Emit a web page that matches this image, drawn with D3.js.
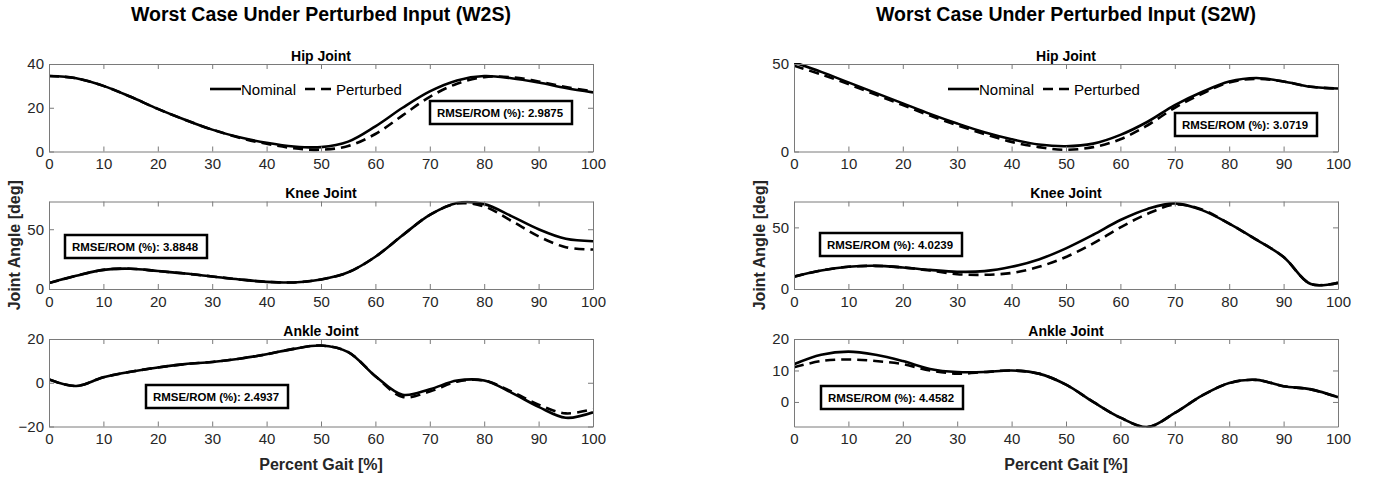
<!DOCTYPE html>
<html>
<head>
<meta charset="utf-8">
<script src="https://cdn.jsdelivr.net/npm/d3@7/dist/d3.min.js"></script>
<style>
  body { margin: 0; background: #fff; }
  text { font-family: "Liberation Sans", Arial, sans-serif; }
</style>
</head>
<body>
<div id="chart"></div>
<script>
// gait percent samples
let gait = [0, 5, 10, 15, 20, 25, 30, 35, 40, 45, 50, 55, 60, 65, 70, 75, 80, 85, 90, 95, 100]

// W2S (left column)
let w2sHipNom   = [34.5, 33.5, 30, 25, 19.5, 14.5, 10, 6.5, 4, 2.3, 2, 4.5, 11.5, 20, 27.5, 32.5, 34.5, 33.5, 31.5, 29, 27]
let w2sHipPert  = [34.5, 33.5, 30, 25, 19.5, 14.5, 10, 6.3, 3.5, 1.5, 0.8, 2.5, 8, 16.5, 25, 31, 34, 34, 32, 29.5, 27.5]
let w2sKneeNom  = [5, 11, 16, 17, 15, 13, 10.5, 8, 6, 5.5, 8, 14, 27, 45, 62, 72, 71, 61, 50, 42, 40]
let w2sKneePert = [5, 11, 16, 17, 15, 13, 10.5, 8, 6, 5.5, 8, 14, 27, 45, 62, 71.5, 69, 57, 44, 35, 33]
let w2sAnkNom   = [1.5, -1.5, 2.5, 5, 7, 8.5, 9.5, 11, 13, 15.5, 17, 14, 3, -5.5, -3, 1, 1, -4.5, -11, -16, -13.5]
let w2sAnkPert  = [1.5, -1.5, 2.5, 5, 7, 8.5, 9.5, 11, 13, 15.5, 17, 14, 3, -6.5, -4, 0.5, 1, -4, -10, -14, -12]

// S2W (right column)
let s2wHipNom   = [51, 45.5, 39.5, 33.5, 27.5, 21.5, 16, 11, 7, 4, 3, 4.5, 9.5, 17, 26.5, 34, 40, 42, 40, 37, 36]
let s2wHipPert  = [49, 44, 38.5, 32.5, 26.5, 20.5, 15, 10, 5.5, 2.5, 1, 2.5, 7, 15, 25, 33, 39.5, 41.5, 40, 37, 36]
let s2wKneeNom  = [10, 15, 18, 18.8, 17.5, 15.5, 14, 14.5, 18, 24, 33, 44, 56, 65, 69.5, 64, 53, 40, 26, 4, 5]
let s2wKneePert = [10, 15, 18, 18.8, 17.5, 15, 12, 11.5, 13, 18, 26, 37, 50, 61, 68.5, 64.5, 53, 40, 26, 4, 5]
let s2wAnkNom   = [12, 15, 16, 15, 13, 10.5, 9.5, 9.5, 10, 9, 5.5, 0, -5, -8, -3.5, 2, 6, 7, 5, 4, 1.5]
let s2wAnkPert  = [11, 13, 13.5, 13, 12, 10, 9, 9.5, 10, 9, 5.5, 0, -5, -8, -3.5, 2, 6, 7, 5, 4, 1.5]

let xTicks = [0, 10, 20, 30, 40, 50, 60, 70, 80, 90, 100]
let titles = ["Worst Case Under Perturbed Input (W2S)", "Worst Case Under Perturbed Input (S2W)"]
let jointNames = ["Hip Joint", "Knee Joint", "Ankle Joint"]
let rmse = [["2.9875", "3.8848", "2.4937"], ["3.0719", "4.0239", "4.4582"]]
let legendNames = ["Nominal", "Perturbed"]

let panels = [
  [
    { nom: w2sHipNom, pert: w2sHipPert, dom: [0, 40], ticks: [0, 20, 40], box: [430, 101], legend: [210, 89] },
    { nom: w2sKneeNom, pert: w2sKneePert, dom: [0, 73.2], ticks: [0, 50], box: [65, 235] },
    { nom: w2sAnkNom, pert: w2sAnkPert, dom: [-20, 20], ticks: [-20, 0, 20], box: [146, 385] }
  ],
  [
    { nom: s2wHipNom, pert: s2wHipPert, dom: [0, 50], ticks: [0, 50], box: [1175, 113], legend: [948, 89] },
    { nom: s2wKneeNom, pert: s2wKneePert, dom: [0, 71], ticks: [0, 50], box: [820, 233] },
    { nom: s2wAnkNom, pert: s2wAnkPert, dom: [-7.8, 20], ticks: [0, 10, 20], box: [821, 386] }
  ]
]

let width = 1374, height = 477
let colLeft = [49, 794], plotW = 544
let rowTop = [64, 201.5, 339], plotH = 87.5
let dashed = "10,6"

let svg = d3.select('#chart').append('svg')
    .attr("width", width)
    .attr("height", height)

let line = (x, y) => d3.line()
    .x((d, i) => x(gait[i]))
    .y(d => y(d))
    .curve(d3.curveCatmullRom.alpha(0.5))

panels.forEach((col, c) => {
  let left = colLeft[c]

  svg.append("text")
      .attr("x", left + plotW / 2)
      .attr("y", 21)
      .attr("text-anchor", "middle")
      .style("font-weight", "bold")
      .style("font-size", "19.5px")
      .attr("fill", "#000")
      .text(titles[c])

  col.forEach((p, r) => {
    let top = rowTop[r]
    let x = d3.scaleLinear().domain([0, 100]).range([0, plotW])
    let y = d3.scaleLinear().domain(p.dom).range([plotH, 0])

    let g = svg.append("g").attr("transform", "translate(" + left + "," + top + ")")

    g.append("text")
        .attr("x", plotW / 2)
        .attr("y", -3.5)
        .attr("text-anchor", "middle")
        .style("font-weight", "bold")
        .style("font-size", "14px")
        .text(jointNames[r])

    let clipId = "clip" + c + r
    g.append("clipPath").attr("id", clipId)
      .append("rect").attr("x", 0).attr("y", -1).attr("width", plotW).attr("height", plotH + 2)

    let lines = g.append("g").attr("clip-path", "url(#" + clipId + ")")
    lines.append("path")
        .datum(p.nom)
        .attr("d", line(x, y))
        .attr("fill", "none")
        .attr("stroke", "#000")
        .attr("stroke-width", 2.6)
    lines.append("path")
        .datum(p.pert)
        .attr("d", line(x, y))
        .attr("fill", "none")
        .attr("stroke", "#000")
        .attr("stroke-width", 2.6)
        .attr("stroke-dasharray", dashed)

    // axes (box on, ticks inward)
    let styleAxis = (a, labels) => {
      a.select(".domain").attr("stroke", "#7a7a7a").attr("stroke-width", 1)
      a.selectAll(".tick line").attr("stroke", "#7a7a7a")
      a.selectAll(".tick text")
          .attr("fill", labels ? "#262626" : "none")
          .style("font-size", "15px")
          .style("font-family", "'Liberation Sans', Arial, sans-serif")
    }
    g.append("g")
        .attr("transform", "translate(0," + plotH + ")")
        .call(d3.axisBottom(x).tickValues(xTicks).tickSizeInner(-5).tickSizeOuter(0).tickPadding(7))
        .call(a => styleAxis(a, true))
    g.append("g")
        .call(d3.axisTop(x).tickValues(xTicks).tickSizeInner(-5).tickSizeOuter(0).tickFormat(""))
        .call(a => styleAxis(a, false))
    g.append("g")
        .call(d3.axisLeft(y).tickValues(p.ticks).tickSizeInner(-5).tickSizeOuter(0).tickPadding(5))
        .call(a => styleAxis(a, true))
    g.append("g")
        .attr("transform", "translate(" + plotW + ",0)")
        .call(d3.axisRight(y).tickValues(p.ticks).tickSizeInner(-5).tickSizeOuter(0).tickFormat(""))
        .call(a => styleAxis(a, false))

    // RMSE box
    let bx = svg.append("g").attr("transform", "translate(" + p.box[0] + "," + p.box[1] + ")")
    bx.append("rect")
        .attr("width", 142).attr("height", 23)
        .attr("fill", "#fff").attr("stroke", "#000").attr("stroke-width", 2.5)
    bx.append("text")
        .attr("x", 7).attr("y", 15.5)
        .attr("textLength", 126)
        .attr("lengthAdjust", "spacingAndGlyphs")
        .style("font-weight", "bold")
        .style("font-size", "11px")
        .text("RMSE/ROM (%): " + rmse[c][r])

    // legend
    if (p.legend) {
      let lg = svg.append("g").attr("transform", "translate(" + p.legend[0] + "," + p.legend[1] + ")")
      let dash = [null, dashed]
      let offs = [0, 95]
      legendNames.forEach((name, i) => {
        lg.append("line")
            .attr("x1", offs[i]).attr("x2", offs[i] + 31)
            .attr("stroke", "#000").attr("stroke-width", 2.6)
            .attr("stroke-dasharray", dash[i])
        lg.append("text")
            .attr("x", offs[i] + 31).attr("y", 5.5)
            .style("font-size", "15px")
            .attr("fill", "#000")
            .text(name)
      })
    }
  })

  svg.append("text")
      .attr("x", left + plotW / 2)
      .attr("y", 470)
      .attr("text-anchor", "middle")
      .style("font-weight", "bold")
      .style("font-size", "16px")
      .attr("fill", "#262626")
      .text("Percent Gait [%]")

  svg.append("text")
      .attr("transform", "translate(" + (left - 29) + "," + (rowTop[1] + plotH / 2) + ") rotate(-90)")
      .attr("text-anchor", "middle")
      .style("font-weight", "bold")
      .style("font-size", "16px")
      .attr("fill", "#262626")
      .text("Joint Angle [deg]")
})
</script>
</body>
</html>
